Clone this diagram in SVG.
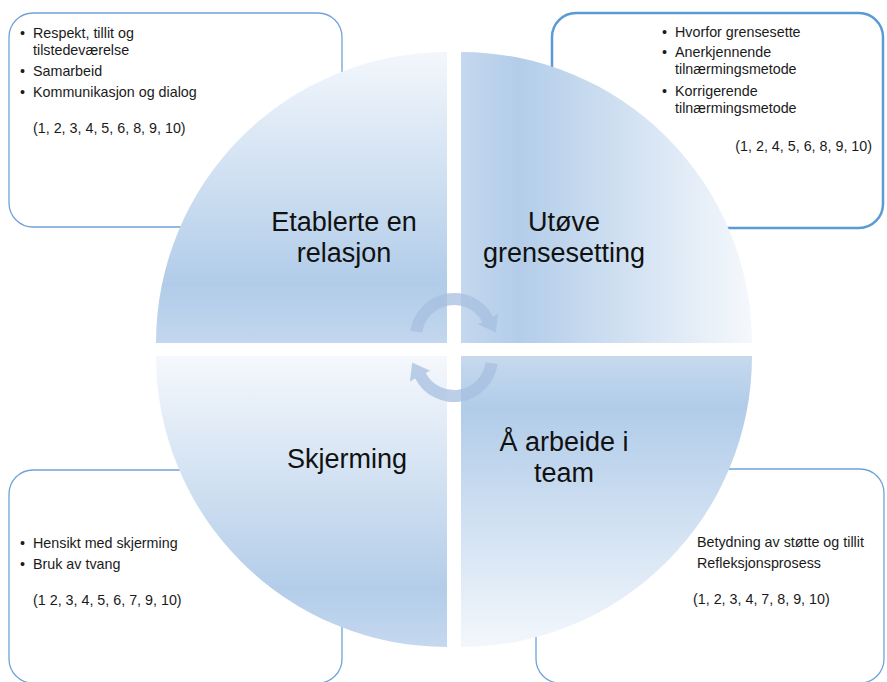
<svg xmlns="http://www.w3.org/2000/svg" width="887" height="682" viewBox="0 0 887 682">
<style>
.box{fill:#ffffff;stroke:#6fa3d8;stroke-width:1.3}
.box2{fill:#ffffff;stroke:#5b9bd5;stroke-width:2.5}
.t{font-family:"Liberation Sans",Arial,sans-serif;font-size:14.3px;fill:#1a1a1a}
.lbl{font-family:"Liberation Sans",Arial,sans-serif;font-size:27px;fill:#111111;text-anchor:middle}
.arr{fill:#a7bfe0;fill-opacity:0.75}
</style>
<defs>
<linearGradient id="gTL" x1="0" y1="52" x2="0" y2="343" gradientUnits="userSpaceOnUse">
<stop offset="0" stop-color="#f3f7fc"/><stop offset="0.8" stop-color="#b1cce9"/><stop offset="1" stop-color="#c3d7ee"/>
</linearGradient>
<linearGradient id="gTR" x1="461" y1="0" x2="752" y2="0" gradientUnits="userSpaceOnUse">
<stop offset="0" stop-color="#c4d8ee"/><stop offset="0.2" stop-color="#b3cde9"/><stop offset="1" stop-color="#f5f8fc"/>
</linearGradient>
<linearGradient id="gBL" x1="0" y1="356" x2="0" y2="647" gradientUnits="userSpaceOnUse">
<stop offset="0" stop-color="#f5f8fc"/><stop offset="0.8" stop-color="#b3cde9"/><stop offset="1" stop-color="#c5d8ee"/>
</linearGradient>
<linearGradient id="gBR" x1="0" y1="356" x2="0" y2="647" gradientUnits="userSpaceOnUse">
<stop offset="0" stop-color="#c6d9ee"/><stop offset="0.18" stop-color="#b1cce9"/><stop offset="1" stop-color="#f3f7fc"/>
</linearGradient>
</defs>

<g id="box-tl">
<rect class="box" x="9" y="13" width="333" height="214" rx="24"/>
<text class="t" x="20" y="38">•</text><text class="t" x="33" y="38">Respekt, tillit og</text>
<text class="t" x="33" y="55">tilstedeværelse</text>
<text class="t" x="20" y="76">•</text><text class="t" x="33" y="76">Samarbeid</text>
<text class="t" x="20" y="97">•</text><text class="t" x="33" y="97">Kommunikasjon og dialog</text>
<text class="t" x="33" y="133">(1, 2, 3, 4, 5, 6, 8, 9, 10)</text>
</g>

<g id="box-tr">
<rect class="box2" x="552" y="13" width="331" height="215" rx="24"/>
<text class="t" x="662" y="37">•</text><text class="t" x="675" y="37">Hvorfor grensesette</text>
<text class="t" x="662" y="57">•</text><text class="t" x="675" y="57">Anerkjennende</text>
<text class="t" x="675" y="74">tilnærmingsmetode</text>
<text class="t" x="662" y="96">•</text><text class="t" x="675" y="96">Korrigerende</text>
<text class="t" x="675" y="113">tilnærmingsmetode</text>
<text class="t" x="872" y="151" text-anchor="end">(1, 2, 4, 5, 6, 8, 9, 10)</text>
</g>

<g id="box-bl">
<rect class="box" x="9" y="470" width="333" height="213" rx="24"/>
<text class="t" x="20" y="548">•</text><text class="t" x="33" y="548">Hensikt med skjerming</text>
<text class="t" x="20" y="569">•</text><text class="t" x="33" y="569">Bruk av tvang</text>
<text class="t" x="33" y="605">(1 2, 3, 4, 5, 6, 7, 9, 10)</text>
</g>

<g id="box-br">
<rect class="box" x="536" y="469" width="348" height="214" rx="24"/>
<text class="t" x="697" y="547">Betydning av støtte og tillit</text>
<text class="t" x="697" y="568">Refleksjonsprosess</text>
<text class="t" x="693" y="604">(1, 2, 3, 4, 7, 8, 9, 10)</text>
</g>

<g id="q-tl">
<path d="M447,343 L156,343 A291,291 0 0 1 447,52 Z" fill="url(#gTL)"/>
<text class="lbl" x="344" y="231">Etablerte en</text>
<text class="lbl" x="344" y="262">relasjon</text>
</g>

<g id="q-tr">
<path d="M461,343 L461,52 A291,291 0 0 1 752,343 Z" fill="url(#gTR)"/>
<text class="lbl" x="564" y="231">Utøve</text>
<text class="lbl" x="564" y="262">grensesetting</text>
</g>

<g id="q-bl">
<path d="M447,356 L447,647 A291,291 0 0 1 156,356 Z" fill="url(#gBL)"/>
<text class="lbl" x="347" y="468">Skjerming</text>
</g>

<g id="q-br">
<path d="M461,356 L752,356 A291,291 0 0 1 461,647 Z" fill="url(#gBR)"/>
<text class="lbl" x="564" y="451">Å arbeide i</text>
<text class="lbl" x="564" y="482">team</text>
</g>

<g id="connectors">
<path class="arr" d="M410.4,330.9 A44,44 0 0 1 492.9,316.4 L498.1,313.5 L495.8,332.6 L477.8,324.3 L482.3,322.0 A32,32 0 0 0 422.3,332.5 Z"/>
<path class="arr" d="M497.6,364.1 A44,44 0 0 1 415.1,378.6 L409.9,381.5 L412.2,362.4 L430.2,370.7 L425.7,373.0 A32,32 0 0 0 485.7,362.5 Z"/>
</g>
</svg>
